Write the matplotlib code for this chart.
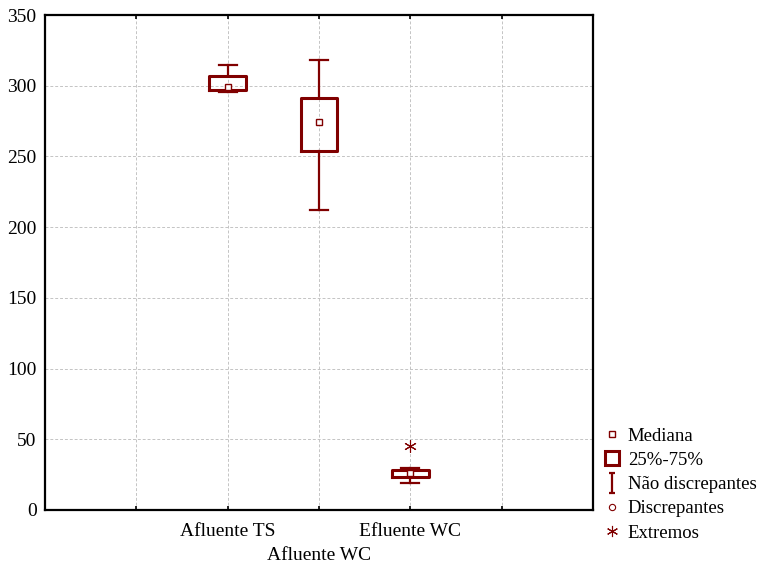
import numpy as np
import matplotlib
matplotlib.use("Agg")
import matplotlib.pyplot as plt
from matplotlib.lines import Line2D
from matplotlib.path import Path

plt.rcParams['font.family'] = ['Liberation Serif', 'DejaVu Serif']

# data
categories = ["Afluente TS", "Afluente WC", "Efluente WC"]
positions = [2, 3, 4]
medians = [299, 274, 26]
q1 = [297, 254, 23.5]
q3 = [307, 291.5, 28]
whisk_lo = [295.5, 212, 19]
whisk_hi = [314.5, 318.5, 29.5]
extremes = [[], [], [45]]

color = "#800000"

fig = plt.figure(figsize=(7.64, 5.65), dpi=100)
ax = fig.add_axes([45 / 764, 55 / 565, 548 / 764, 495 / 565])

stats = []
for i in range(len(categories)):
    stats.append(dict(med=medians[i], q1=q1[i], q3=q3[i],
                      whislo=whisk_lo[i], whishi=whisk_hi[i], fliers=[]))

ax.bxp(stats, positions=positions, widths=0.4, showfliers=False,
       boxprops=dict(color=color, linewidth=2.2),
       whiskerprops=dict(color=color, linewidth=1.6),
       capprops=dict(color=color, linewidth=1.6),
       medianprops=dict(linestyle="none"),
       capwidths=0.2, zorder=3)

ax.plot(positions, medians, "s", ms=5, mfc="white", mec=color, mew=1.0,
        linestyle="none", zorder=4)

for p, ex in zip(positions, extremes):
    if ex:
        ax.plot([p] * len(ex), ex, marker=(6, 2, 0), ms=9, color=color,
                linestyle="none", mew=0.8, zorder=4)

ax.set_xlim(0, 6)
ax.set_ylim(0, 350)
# staggered labels: odd categories on the first row, the middle one below
ax.set_xticks([1, 2, 4, 5])
ax.set_xticklabels(["", categories[0], categories[2], ""])
ax.set_xticks([3], minor=True)
ax.set_xticklabels([categories[1]], minor=True)
ax.set_yticks(np.arange(0, 351, 50))
ax.tick_params(axis="x", which="both", direction="in", length=3, width=1.2, top=True, labelsize=14)
ax.tick_params(axis="x", which="major", pad=9)
ax.tick_params(axis="x", which="minor", pad=27)
ax.tick_params(axis="y", length=0, labelsize=14, pad=6)
ax.grid(True, which="both", axis="x", color="#c4c4c4", linestyle=(0, (3, 2)), linewidth=0.7)
ax.grid(True, axis="y", color="#c4c4c4", linestyle=(0, (3, 2)), linewidth=0.7)
ax.set_axisbelow(True)
for s in ax.spines.values():
    s.set_linewidth(1.6)

ibar = Path([(-0.35, -1), (0.35, -1), (0, -1), (0, 1), (-0.35, 1), (0.35, 1)],
            [Path.MOVETO, Path.LINETO, Path.MOVETO, Path.LINETO, Path.MOVETO, Path.LINETO])
handles = [
    Line2D([], [], marker="s", ms=5, mfc="white", mec=color, mew=1.0, linestyle="none"),
    Line2D([], [], marker="s", ms=10.5, mfc="white", mec=color, mew=2.2, linestyle="none"),
    Line2D([], [], marker=ibar, ms=14, color=color, mew=1.6, linestyle="none"),
    Line2D([], [], marker="o", ms=4.5, mfc="white", mec=color, mew=0.8, linestyle="none"),
    Line2D([], [], marker=(6, 2, 0), ms=8, color=color, mew=0.8, linestyle="none"),
]
labels = ["Mediana", "25%-75%", "Não discrepantes", "Discrepantes", "Extremos"]
fig.legend(handles, labels, loc="upper left", bbox_to_anchor=(595 / 764, 1 - 420 / 565),
           frameon=False, fontsize=13.5, handlelength=1.0, handletextpad=0.35,
           labelspacing=0.38, borderaxespad=0)

fig.savefig("out.png", dpi=100)
